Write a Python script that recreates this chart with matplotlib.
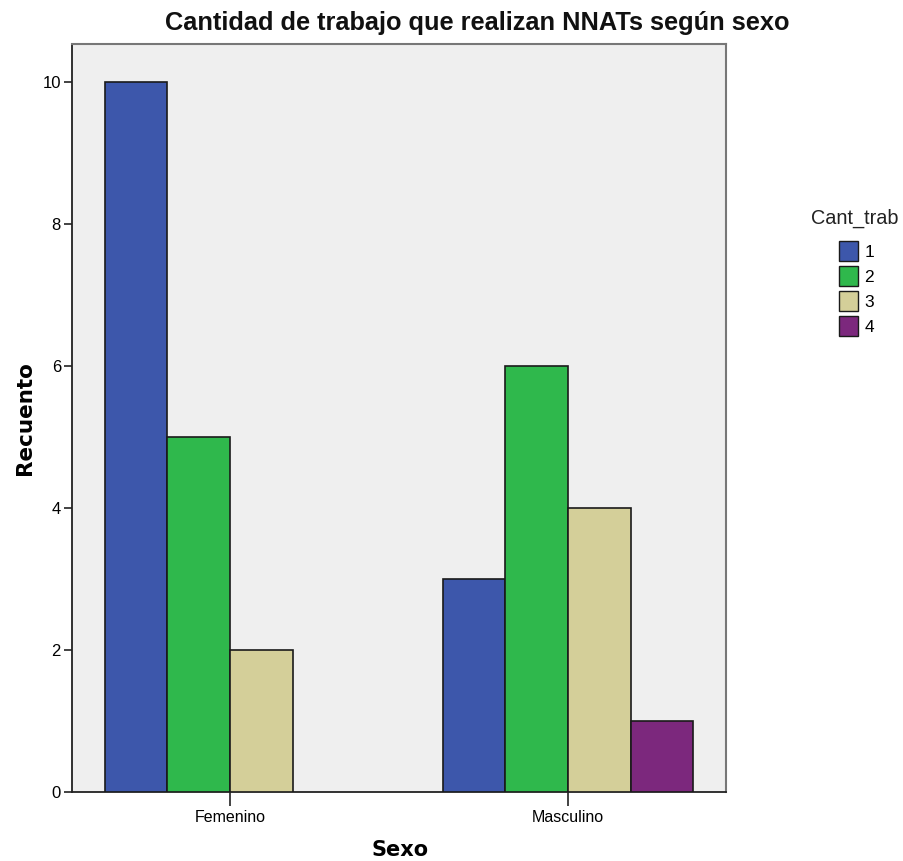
import numpy as np
import matplotlib.pyplot as plt
from matplotlib.patches import Patch

plt.rcParams['font.family'] = ['Liberation Sans', 'DejaVu Sans']

categories = ['Femenino', 'Masculino']
series_labels = ['1', '2', '3', '4']
counts = {
    '1': [10, 3],
    '2': [5, 6],
    '3': [2, 4],
    '4': [0, 1],
}
colors = ['#3D57AB', '#2FB84C', '#D4CF99', '#7C287D']
yticks = [0, 2, 4, 6, 8, 10]

fig = plt.figure(figsize=(9.04, 8.61), dpi=100)
ax = fig.add_axes([72 / 904, 1 - 792 / 861, (726 - 72) / 904, (792 - 44) / 861])
ax.set_facecolor('#EFEFEF')

# 4 slots per group, the tick sits between slot 2 and slot 3
x = np.arange(len(categories))
w = 0.185
for i, lab in enumerate(series_labels):
    vals = np.array(counts[lab], dtype=float)
    offs = (i - 1.5) * w
    for xi, v in zip(x, vals):
        if v > 0:
            ax.bar(xi + offs, v, width=w, color=colors[i],
                   edgecolor='#1a1a1a', linewidth=1.2, zorder=3)

ax.set_xlim(-0.4675, 1.4675)
ax.set_ylim(0, 10.54)
ax.set_xticks(x)
ax.set_xticklabels(categories, fontsize=11.5)
ax.set_yticks(yticks)
ax.set_yticklabels([str(t) for t in yticks], fontsize=12)
ax.tick_params(axis='x', length=10, width=1.2, color='#222222', pad=3)
ax.tick_params(axis='y', length=6, width=1.2, color='#222222', pad=2)

for s in ['left', 'bottom']:
    ax.spines[s].set_color('#222222')
    ax.spines[s].set_linewidth(1.3)
for s in ['top', 'right']:
    ax.spines[s].set_color('#777777')
    ax.spines[s].set_linewidth(1.5)

fig.text(477 / 904, 1 - 23 / 861, 'Cantidad de trabajo que realizan NNATs según sexo',
         fontsize=18.3, fontweight='bold', ha='center', va='center', color='#111111')
fig.text(400 / 904, 1 - 850 / 861, 'Sexo', fontsize=15, fontweight='bold',
         family='DejaVu Sans', ha='center', va='center')
fig.text(25 / 904, 1 - 418 / 861, 'Recuento', fontsize=15.5, fontweight='bold',
         family='DejaVu Sans', ha='center', va='center', rotation=90)

# legend title drawn separately so the gap to the entries can be set
fig.text(855 / 904, 1 - 218 / 861, 'Cant_trab', fontsize=14.3, ha='center', va='center',
         color='#222222')
handles = [Patch(facecolor=c, edgecolor='#1a1a1a', label=l) for c, l in zip(colors, series_labels)]
leg = fig.legend(handles=handles, loc='upper left',
                 bbox_to_anchor=(839 / 904, 1 - 241 / 861), frameon=False,
                 fontsize=12.5, handlelength=1.1, handleheight=1.4,
                 handletextpad=0.35, labelspacing=0.285, borderpad=0, borderaxespad=0)

fig.savefig('out.png', dpi=100)
